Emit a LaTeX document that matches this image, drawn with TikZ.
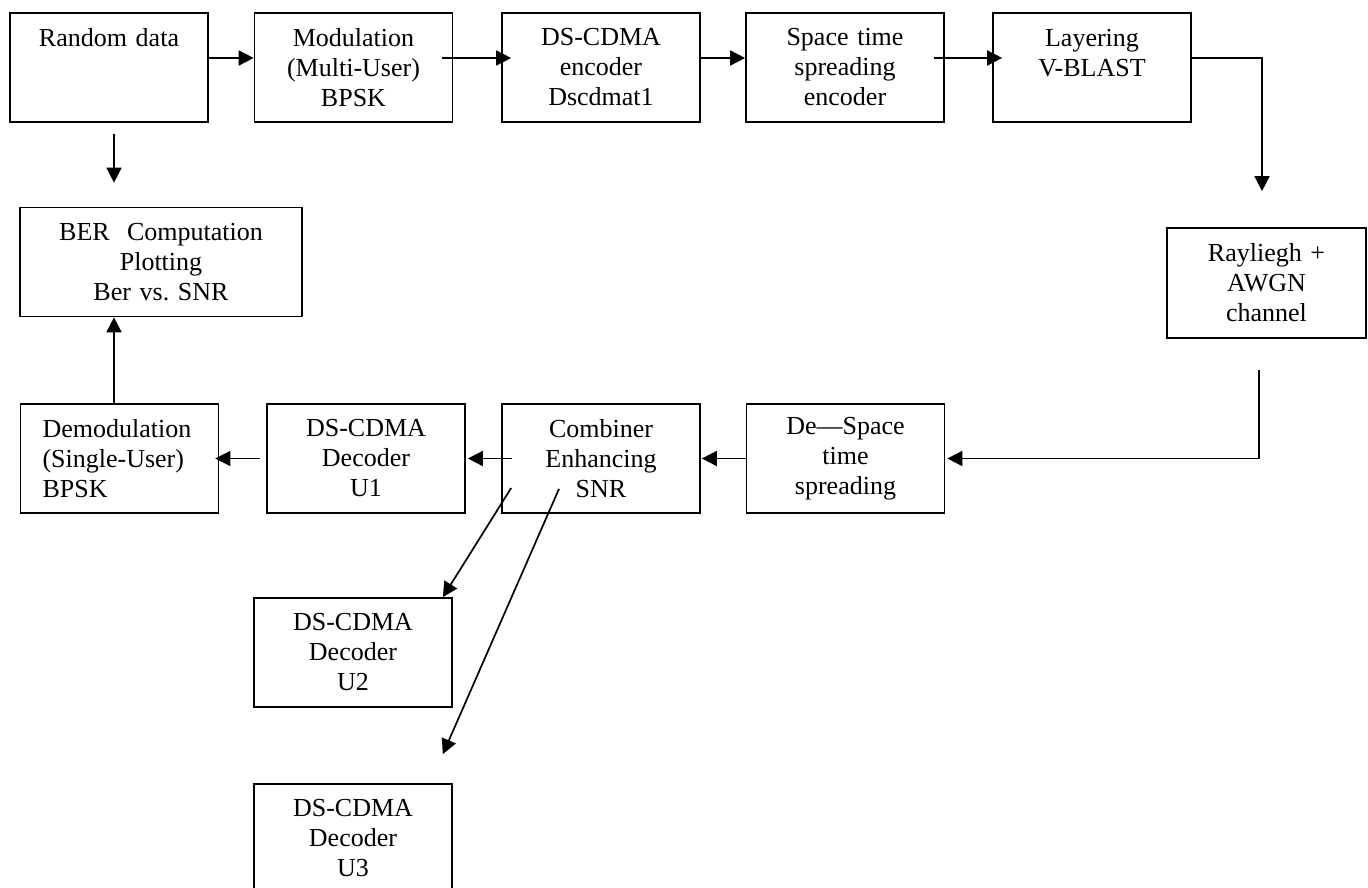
\documentclass[tikz,border=0pt]{standalone}
\usepackage{fontspec}
\setmainfont{Liberation Serif}
\usetikzlibrary{arrows.meta}

\begin{document}
\begin{tikzpicture}[
  x=1pt, y=-1pt,
  >={Triangle[length=15pt,width=15pt]},
  every node/.style={font=\fontsize{26}{30}\selectfont},
  blk/.style={draw, line width=1.7pt, minimum width=198pt,
              minimum height=109pt, text width=160pt, align=center,
              inner sep=0pt},
  flow/.style={->, line width=1.7pt}
]
\useasboundingbox (0,0) rectangle (1368,888);

% ---- TOP ROW: transmitter ----
\node[blk] (rand) at (109, 67.5) {Random data\\\mbox{}\\\mbox{}};
\node[blk] (mod) at (353.5, 67.5) {Modulation\\(Multi-User)\\BPSK};
\node[blk] (enc) at (601, 67.5) {DS-CDMA\\encoder\\Dscdmat1};
\node[blk] (stsp) at (845, 67.5) {Space time\\spreading\\encoder};
\node[blk] (layer) at (1092, 67.5) {Layering\\V-BLAST\\\mbox{}};

% ---- CHANNEL ----
\node[blk, minimum width=199pt, minimum height=110pt] (chan)
  at (1266.5, 283) {Rayliegh +\\AWGN\\channel};

% ---- BER ----
\node[blk, minimum width=282pt, text width=250pt] (ber)
  at (161, 262) {BER\ \ Computation\\Plotting\\Ber vs.\ SNR};

% ---- RECEIVER ROW ----
\node[blk, align=left, text width=154pt] (demod)
  at (119.5, 458.5) {Demodulation\\(Single-User)\\BPSK};
\node[blk] (dec1) at (366, 458.5) {DS-CDMA\\Decoder\\U1};
\node[blk] (comb) at (601, 458.5) {Combiner\\Enhancing\\SNR};
\node[blk] (dest) at (845.5, 458.5) {De---Space\\time\\spreading};

% ---- OTHER USERS ----
\node[blk] (dec2) at (353, 652.5) {DS-CDMA\\Decoder\\U2};
\node[blk] (dec3) at (353, 838.5) {DS-CDMA\\Decoder\\U3};

% ---- CONNECTORS ----
\draw[flow] ([yshift=9.5pt]rand.east) -- ([yshift=9.5pt]mod.west);
\draw[flow] ([xshift=-11pt,yshift=9.5pt]mod.east)
  -- ([xshift=10pt,yshift=9.5pt]enc.west);
\draw[flow] ([yshift=9.5pt]enc.east) -- ([yshift=9.5pt]stsp.west);
\draw[flow] ([xshift=-11pt,yshift=9.5pt]stsp.east)
  -- ([xshift=10pt,yshift=9.5pt]layer.west);
\draw[flow] ([yshift=9.5pt]layer.east)
  -| ([xshift=-4.5pt,yshift=36pt]chan.north);
\draw[flow] ([xshift=-7.5pt,yshift=-31pt]chan.south)
  |- ([xshift=2pt]dest.east);
\draw[flow] (dest.west) -- ([xshift=1pt]comb.east);
\draw[flow] ([xshift=11pt]comb.west) -- ([xshift=2pt]dec1.east);
\draw[flow] ([xshift=-6pt]dec1.west) -- ([xshift=-4pt]demod.east);

\coordinate (dm) at ([xshift=-5.5pt,yshift=-2pt]demod.north);
\draw[flow] (dm) -- (dm |- ber.south);
\draw[flow] ([xshift=5pt,yshift=-11pt]rand.south)
  -- ([xshift=-47pt,yshift=24pt]ber.north);

\draw[flow] ([xshift=10pt,yshift=-29.5pt]comb.west)
  -- ([xshift=-10pt]dec2.north east);
\draw[flow] ([xshift=-42pt,yshift=25pt]comb.south)
  -- ([xshift=-10pt,yshift=29pt]dec3.north east);

\end{tikzpicture}
\end{document}
